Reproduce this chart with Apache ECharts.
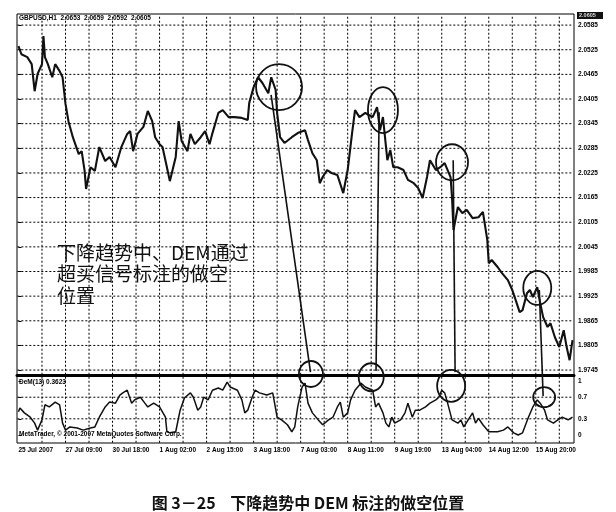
<!DOCTYPE html>
<html><head><meta charset="utf-8">
<script src="https://cdn.jsdelivr.net/npm/echarts@6/dist/echarts.min.js"></script>
<style>html,body{margin:0;padding:0;background:#fff}#c{width:616px;height:512px}</style>
</head><body><div id="c"></div>
<script>
// ---- data (x = hourly bar number from the left edge) ----
const priceBars = [0,2,6,9,11,13,16,17,18,20,23,25,28,30,32,34,37,41,43,45,
  46,49,52,55,59,62,66,70,74,76,78,81,85,88,91,93,96,98,101,103,
  107,109,111,115,117,120,124,127,130,132,136,139,143,147,152,156,157,160,163,166,
  170,172,175,176,178,181,186,190,195,197,200,203,205,207,210,213,217,221,224,227,
  229,232,236,241,244,246,248,251,253,255,258,262,265,269,272,275,278,280,284,287,
  290,294,295,296,299,302,305,309,313,316,319,320,322,326,329,333,336,339,341,343,
  346,348,350,353,355,357,360,362,365,368,371,373,375,377];
const priceValues = [2.0534,2.0514,2.0507,2.0490,2.0424,2.0466,2.0490,2.0558,2.0507,2.0490,2.0458,2.0490,2.0473,2.0458,2.0393,2.0351,2.0312,2.0271,2.0278,2.0230,
  2.0186,2.0239,2.0230,2.0288,2.0254,2.0264,2.0239,2.0288,2.0320,2.0327,2.0278,2.0320,2.0337,2.0376,2.0351,2.0312,2.0295,2.0288,2.0239,2.0205,
  2.0264,2.0351,2.0303,2.0278,2.0320,2.0295,2.0312,2.0327,2.0295,2.0322,2.0371,2.0378,2.0361,2.0361,2.0359,2.0354,2.0395,2.0434,2.0458,2.0444,
  2.0419,2.0458,2.0427,2.0371,2.0312,2.0298,2.0312,2.0322,2.0329,2.0305,2.0273,2.0256,2.0200,2.0215,2.0232,2.0225,2.0220,2.0176,2.0232,2.0322,
  2.0378,2.0361,2.0371,2.0361,2.0385,2.0329,2.0361,2.0256,2.0281,2.0239,2.0239,2.0232,2.0208,2.0200,2.0188,2.0164,2.0215,2.0256,2.0232,2.0239,
  2.0249,2.0215,2.0166,2.0086,2.0142,2.0127,2.0135,2.0115,2.0117,2.0130,2.0062,2.0005,2.0013,1.9996,1.9981,1.9964,1.9940,1.9908,1.9886,1.9891,
  1.9932,1.9940,1.9923,1.9947,1.9908,1.9874,1.9850,1.9859,1.9825,1.9801,1.9842,1.9801,1.9769,1.9818];
const demBars = [0,1,4,8,11,13,16,18,21,25,28,30,32,35,40,44,49,52,55,59,
  62,66,69,71,74,77,79,83,86,88,92,96,100,101,103,107,110,113,117,119,
  122,124,126,129,132,136,139,142,144,149,152,154,156,159,161,164,169,173,176,179,
  183,186,188,190,193,195,197,200,204,207,211,214,217,219,221,224,226,229,233,236,
  241,243,245,248,250,252,254,256,260,263,265,268,270,273,277,280,284,286,288,290,
  292,295,299,301,303,306,309,311,313,316,320,326,330,333,337,340,343,347,350,353,
  355,358,360,364,367,370,374,377];
const demValues = [0.43,0.50,0.41,0.33,0.22,0.09,0.28,0.56,0.52,0.61,0.56,0.22,0.09,0.15,0.13,0.09,0.13,0.15,0.33,0.52,
  0.61,0.59,0.74,0.78,0.83,0.59,0.65,0.70,0.59,0.52,0.59,0.52,0.33,0.06,0.04,0.06,0.46,0.69,0.78,0.70,
  0.46,0.52,0.70,0.65,0.83,0.87,0.83,0.98,0.89,0.83,0.65,0.41,0.46,0.70,0.83,0.78,0.74,0.78,0.33,0.28,
  0.19,0.06,0.15,0.52,0.89,0.96,0.59,0.41,0.28,0.19,0.28,0.33,0.52,0.61,0.33,0.41,0.65,0.83,0.96,0.89,
  0.83,0.52,0.59,0.41,0.22,0.15,0.33,0.22,0.28,0.41,0.59,0.33,0.46,0.46,0.52,0.59,0.65,0.70,0.83,0.78,
  0.59,0.28,0.22,0.28,0.15,0.28,0.41,0.22,0.31,0.19,0.06,0.06,0.09,0.15,0.04,0.00,0.04,0.33,0.52,0.65,
  0.59,0.46,0.28,0.22,0.28,0.33,0.28,0.33];
const priceTicks = [2.0585,2.0525,2.0465,2.0405,2.0345,2.0285,2.0225,2.0165,2.0105,2.0045,1.9985,1.9925,1.9865,1.9805,1.9745];
const demTicks = [1,0.7,0.3,0];
const demGrid = [0.7,0.3];
const gridBars = [16,32,48,64,80,96,112,128,144,160,176,192,208,224,240,256,272,288,304,320,336,352,368];
const timeTickBars = [0,32,64,96,128,160,192,224,256,288,320,352];
const timeLabels = ['25 Jul 2007','27 Jul 09:00','30 Jul 18:00','1 Aug 02:00','2 Aug 15:00','3 Aug 18:00','7 Aug 03:00','8 Aug 11:00','9 Aug 19:00','13 Aug 04:00','14 Aug 12:00','15 Aug 20:00'];
const headerText = 'GBPUSD,H1  2.0653  2.0659  2.0592  2.0605';
const demHeader = 'DeM(13) 0.3623';
const copyright = 'MetaTrader, © 2001-2007 MetaQuotes Software Corp.';
const noteLines = ['下降趋势中、DEM通过','超买信号标注的做空','位置'];
const caption = '图 3－25    下降趋势中 DEM 标注的做空位置';
// axis ranges
const X_MIN = -1, X_MAX = 378, P_MIN = 1.9733, P_MAX = 2.0612, D_MIN = -0.148, D_MAX = 1.093;
// annotation marks (hand drawn circles & connector lines), in data coordinates
const circles = [
  {g:0, b:177.3, v:2.0434, rx:23, ry:23},
  {g:0, b:248.0, v:2.0378, rx:15, ry:23},
  {g:0, b:295.0, v:2.0251, rx:16, ry:18},
  {g:0, b:353.0, v:1.9945, rx:14, ry:17},
  {g:1, b:199.0, v:1.13, rx:12, ry:13},
  {g:1, b:240.0, v:1.07, rx:12.5, ry:14},
  {g:1, b:294.4, v:0.91, rx:14, ry:16},
  {g:1, b:357.7, v:0.70, rx:11, ry:10}
];
const connectors = [
  {a:[0,171.9,2.0415], z:[0,198.7,1.9740]},
  {a:[0,245.4,2.0373], z:[0,243.3,1.9743]},
  {a:[0,295.8,2.0256], z:[0,297.1,1.9740]},
  {a:[0,354.4,1.9940], z:[1,357.0,0.72]}
];

// dotted grid: small dash marks placed along each grid line (step = 4 px in axis units)
const X_STEP = 4 * (X_MAX - X_MIN) / 557, P_STEP = 4 * (P_MAX - P_MIN) / 361, D_STEP = 4 * (D_MAX - D_MIN) / 67;
function hDots(vals){ const out=[]; vals.forEach(v=>{ for(let x=X_MIN+0.9; x<X_MAX-0.5; x+=X_STEP) out.push([x,v]); }); return out; }
function vDots(bars, lo, hi, step){ const out=[]; bars.forEach(b=>{ for(let y=lo+step*0.3; y<hi-step*0.2; y+=step) out.push([b,y]); }); return out; }

const chart = echarts.init(document.getElementById('c'), null, {renderer:'canvas'});
const axisFont = () => ({fontFamily:'Liberation Sans, Arial, sans-serif', fontSize:6.5, fontWeight:'bold', color:'#000'});
const zip = (a,b)=>a.map((x,i)=>[x,b[i]]);
const dotSeries = (xi, data, size) => ({type:'scatter', xAxisIndex:xi, yAxisIndex:xi, data:data, symbol:'rect', symbolSize:size,
  itemStyle:{color:'#000', opacity:1}, silent:true, z:4, large:false, animation:false});

chart.setOption({
  animation:false,
  backgroundColor:'#fff',
  title:{text:caption, left:'center', top:490, textStyle:{fontFamily:'Noto Sans CJK SC', fontSize:16, fontWeight:'bold', color:'#111'}},
  grid:[
    {left:17, right:42, top:14, height:361, show:true, borderColor:'#000', borderWidth:1, outerBoundsMode:'none'},
    {left:17, right:42, top:376, height:67, show:true, borderColor:'#000', borderWidth:1, outerBoundsMode:'none'}
  ],
  xAxis:[
    {type:'value', gridIndex:0, min:X_MIN, max:X_MAX, axisLabel:{show:false}, axisTick:{show:false}, splitLine:{show:false},
     axisLine:{show:true, lineStyle:{color:'#000', width:3}}},
    {type:'value', gridIndex:1, min:X_MIN, max:X_MAX, splitLine:{show:false}, axisLine:{show:false}, axisTick:{show:false},
     axisLabel:Object.assign({customValues:timeTickBars, align:'left', margin:4, formatter:v=>timeLabels[timeTickBars.indexOf(v)]}, axisFont())}
  ],
  yAxis:[
    {type:'value', gridIndex:0, position:'right', min:P_MIN, max:P_MAX, splitLine:{show:false}, axisLine:{show:false},
     axisTick:{show:true, customValues:priceTicks, length:3, lineStyle:{color:'#000'}},
     axisLabel:Object.assign({customValues:priceTicks, margin:4, formatter:v=>v.toFixed(4)}, axisFont())},
    {type:'value', gridIndex:1, position:'right', min:D_MIN, max:D_MAX, splitLine:{show:false}, axisLine:{show:false},
     axisTick:{show:true, customValues:demTicks, length:3, lineStyle:{color:'#000'}},
     axisLabel:Object.assign({customValues:demTicks, margin:4, formatter:v=>String(v)}, axisFont())}
  ],
  series:[
    dotSeries(0, hDots(priceTicks), [2,1]),
    dotSeries(0, vDots(gridBars, P_MIN, P_MAX, P_STEP), [1,2]),
    dotSeries(1, hDots(demGrid), [2,1]),
    dotSeries(1, vDots(gridBars, D_MIN, D_MAX, D_STEP), [1,2]),
    {type:'line', xAxisIndex:0, yAxisIndex:0, data:zip(priceBars,priceValues), showSymbol:false, z:6,
     lineStyle:{color:'#111', width:2.1}, silent:true},
    {type:'line', xAxisIndex:1, yAxisIndex:1, data:zip(demBars,demValues), showSymbol:false, z:6,
     lineStyle:{color:'#111', width:1.5}, silent:true}
  ]
});

const px = (gi,b,v)=>chart.convertToPixel({gridIndex:gi},[b,v]);
const els = [];
circles.forEach(c=>{
  const p = px(c.g,c.b,c.v);
  els.push({type:'ellipse', shape:{cx:p[0], cy:p[1], rx:c.rx, ry:c.ry}, style:{fill:null, stroke:'#111', lineWidth:1.8}, z:10});
});
connectors.forEach(l=>{
  const a = px(l.a[0],l.a[1],l.a[2]), e = px(l.z[0],l.z[1],l.z[2]);
  els.push({type:'line', shape:{x1:a[0],y1:a[1],x2:e[0],y2:e[1]}, style:{stroke:'#111', lineWidth:1.6}, z:10});
});
const tf = 'Liberation Sans, Arial, sans-serif';
els.push({type:'text', x:19, y:15, style:{text:headerText, font:'bold 6.5px '+tf, fill:'#000'}, z:10});
els.push({type:'text', x:19, y:379, style:{text:demHeader, font:'bold 6.5px '+tf, fill:'#000'}, z:10});
els.push({type:'text', x:19, y:431, style:{text:copyright, font:'bold 6.5px '+tf, fill:'#000'}, z:10});
els.push({type:'rect', shape:{x:577, y:12, width:26, height:7}, style:{fill:'#111'}, z:10});
els.push({type:'text', x:579, y:12.5, style:{text:'2.0605', font:'bold 5.5px '+tf, fill:'#ddd'}, z:11});
noteLines.forEach((t,i)=>{
  els.push({type:'text', x:57, y:243+i*21.5, style:{text:t, font:'19px "Noto Sans CJK SC"', fill:'#111'}, z:10});
});
chart.setOption({graphic:{elements:els}});
</script></body></html>
